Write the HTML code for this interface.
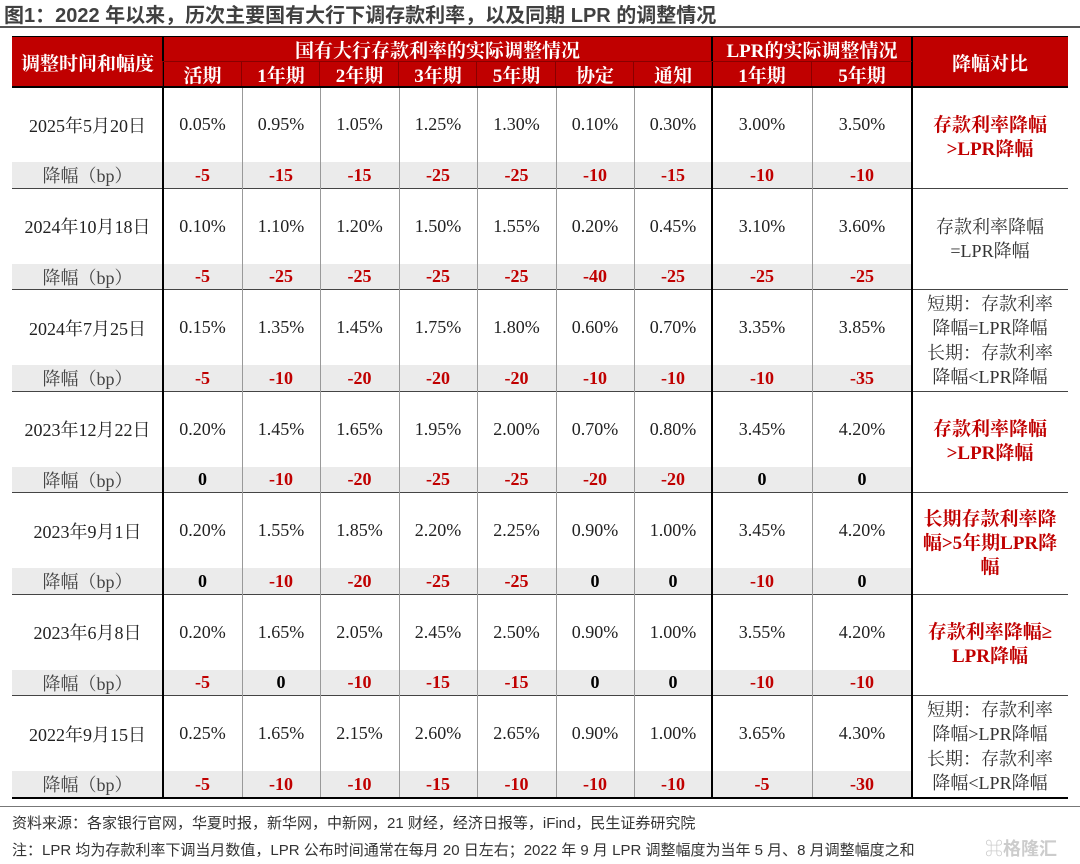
<!DOCTYPE html>
<html><head><meta charset="utf-8"><style>
body{margin:0;width:1080px;height:864px;background:#fff;position:relative;overflow:hidden;font-family:"Liberation Serif","Noto Serif CJK SC",serif;}
.a{position:absolute;box-sizing:border-box;display:flex;align-items:center;justify-content:center;text-align:center;}
.h{background:#c00000;color:#fff;font-weight:bold;font-size:19px;}
.v{font-size:18px;color:#222;}
.d{font-size:18px;color:#c00000;font-weight:bold;}
.k{font-size:18px;color:#000;font-weight:bold;}
.vl{position:absolute;width:1px;background:#999;}
.bl{position:absolute;width:2px;background:#000;}
.hl{position:absolute;height:1px;background:#444;}
</style></head><body>
<div class="a" style="left:4px;top:0;height:26px;justify-content:flex-start;font-family:'Liberation Sans','Noto Sans CJK SC',sans-serif;font-weight:bold;font-size:20px;color:#404040;">图1：2022 年以来，历次主要国有大行下调存款利率，以及同期 LPR 的调整情况</div>
<div style="position:absolute;left:0;top:26px;width:1080px;height:2px;background:#555;"></div>
<div id="tbl"></div>
<div style="position:absolute;left:0;top:806px;width:1080px;height:1px;background:#777;"></div>
<div class="a" style="left:12px;top:812px;height:20px;justify-content:flex-start;font-family:'Liberation Sans','Noto Sans CJK SC',sans-serif;font-size:15px;color:#333;">资料来源：各家银行官网，华夏时报，新华网，中新网，21 财经，经济日报等，iFind，民生证券研究院</div>
<div class="a" style="left:12px;top:839px;height:20px;justify-content:flex-start;font-family:'Liberation Sans','Noto Sans CJK SC',sans-serif;font-size:15px;color:#333;">注：LPR 均为存款利率下调当月数值，LPR 公布时间通常在每月 20 日左右；2022 年 9 月 LPR 调整幅度为当年 5 月、8 月调整幅度之和</div>
<div class="a" style="left:985px;top:836px;height:24px;font-family:'Liberation Sans','Noto Sans CJK SC',sans-serif;font-size:18px;color:#ccc;font-weight:bold;">⌘格隆汇</div>
<script>
const dates=["2025年5月20日","2024年10月18日","2024年7月25日","2023年12月22日","2023年9月1日","2023年6月8日","2022年9月15日"];
const rates=[["0.05%","0.95%","1.05%","1.25%","1.30%","0.10%","0.30%","3.00%","3.50%"],["0.10%","1.10%","1.20%","1.50%","1.55%","0.20%","0.45%","3.10%","3.60%"],["0.15%","1.35%","1.45%","1.75%","1.80%","0.60%","0.70%","3.35%","3.85%"],["0.20%","1.45%","1.65%","1.95%","2.00%","0.70%","0.80%","3.45%","4.20%"],["0.20%","1.55%","1.85%","2.20%","2.25%","0.90%","1.00%","3.45%","4.20%"],["0.20%","1.65%","2.05%","2.45%","2.50%","0.90%","1.00%","3.55%","4.20%"],["0.25%","1.65%","2.15%","2.60%","2.65%","0.90%","1.00%","3.65%","4.30%"]];
const cuts=[[-5,-15,-15,-25,-25,-10,-15,-10,-10],[-5,-25,-25,-25,-25,-40,-25,-25,-25],[-5,-10,-20,-20,-20,-10,-10,-10,-35],[0,-10,-20,-25,-25,-20,-20,0,0],[0,-10,-20,-25,-25,0,0,-10,0],[-5,0,-10,-15,-15,0,0,-10,-10],[-5,-10,-10,-15,-10,-10,-10,-5,-30]];
const notes=[["存款利率降幅<br>&gt;LPR降幅",1],["存款利率降幅<br>=LPR降幅",0],["短期：存款利率<br>降幅=LPR降幅<br>长期：存款利率<br>降幅&lt;LPR降幅",0],["存款利率降幅<br>&gt;LPR降幅",1],["长期存款利率降<br>幅&gt;5年期LPR降<br>幅",1],["存款利率降幅≥<br>LPR降幅",1],["短期：存款利率<br>降幅&gt;LPR降幅<br>长期：存款利率<br>降幅&lt;LPR降幅",0]];
const heads=["活期","1年期","2年期","3年期","5年期","协定","通知","1年期","5年期"];
const X=[12,163,242,320,399,477,556,634,712,812,912,1068];
const T=document.getElementById('tbl');
function box(cls,l,t,w,h,html){const e=document.createElement('div');e.className=cls;e.style.cssText=`left:${l}px;top:${t}px;width:${w}px;height:${h}px`;e.innerHTML=html;T.appendChild(e);return e;}
let e;
e=box('a h',X[0],37,X[1]-X[0],50,'调整时间和幅度');


e=box('a h',X[1],37,X[8]-X[1],24,'国有大行存款利率的实际调整情况');


e=box('a h',X[8],37,X[10]-X[8],24,'LPR的实际调整情况');


e=box('a h',X[10],37,X[11]-X[10],50,'降幅对比');


heads.forEach((s,i)=>{e=box('a h',X[i+1],61,X[i+2]-X[i+1],26,s);

});
const G=101.5;
dates.forEach((d,g)=>{const y=87+g*G;
 e=box('a',X[0],y+75,X[10]-X[0],26.5,'');e.style.background='#ebebeb';
 
 
 e=box('a v',X[0],y,X[1]-X[0],75,d);
 
 
 e=box('a v',X[0],y+75,X[1]-X[0],26.5,'降幅（bp）');e.style.color='#444';
 
 
 rates[g].forEach((r,i)=>{e=box('a v',X[i+1],y,X[i+2]-X[i+1],75,r);
 
 });
 cuts[g].forEach((c,i)=>{e=box(c===0?'a k':'a d',X[i+1],y+75,X[i+2]-X[i+1],26.5,String(c));
 
 });
 const n=notes[g];e=box('a',X[10],y,X[11]-X[10],G,n[0]);
 e.style.cssText+=n[1]?';color:#c00000;font-weight:bold;font-size:19px;line-height:24px':';color:#333;font-size:18px;line-height:24.5px';
 
 
 e=box('hl',X[0],y+G-1,X[11]-X[0],1,'');if(g===6){e.style.height='2px';e.style.background='#000';}
 
 
});
[2,3,4,5,6,7,9].forEach(i=>{e=box('vl',X[i],87,1,710,'');
 
 });
[1,8,10].forEach(i=>{e=box('bl',X[i]-1,37,2,760,'');
 
 });
[[1,2],[2,3],[3,4],[4,5],[5,6],[6,7],[7,8],[8,9],[9,10]].forEach(p=>{e=box('bl',X[p[0]]-1,61,1,26,'');e.style.background='#800';
 
 });
e=box('hl',X[0],36,X[11]-X[0],1,'');e.style.background='#000';


e=box('hl',X[1],61,X[10]-X[1],1,'');e.style.background='#800';


e=box('hl',X[0],86,X[11]-X[0],2,'');e.style.background='#000';


</script>
</body></html>
